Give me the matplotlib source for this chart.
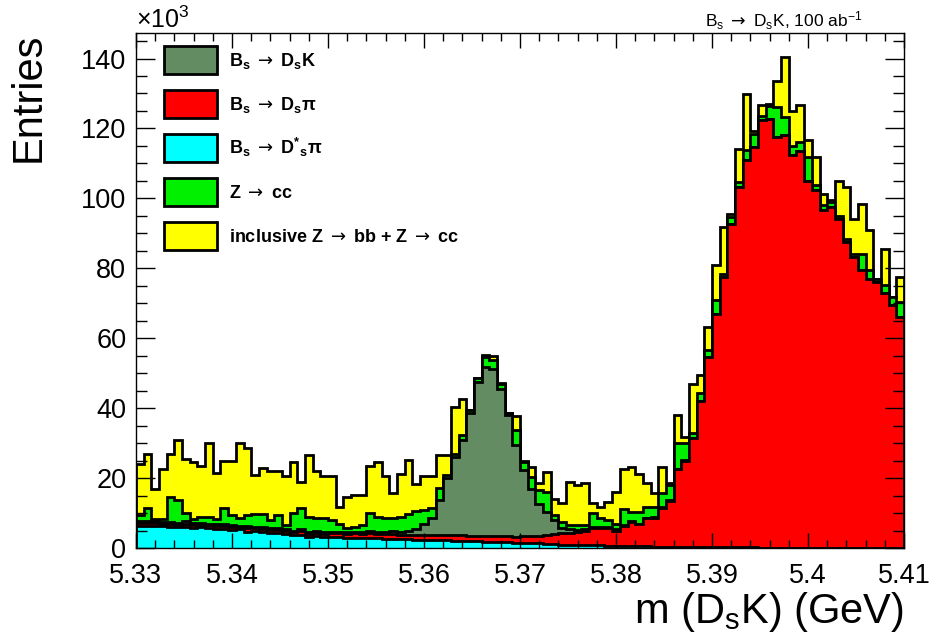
import numpy as np
import matplotlib
matplotlib.use("Agg")
import matplotlib.pyplot as plt
from matplotlib.patches import Patch

plt.rcParams['font.family'] = ['Liberation Sans', 'DejaVu Sans']
plt.rcParams['mathtext.fontset'] = 'custom'
plt.rcParams['mathtext.rm'] = 'Liberation Sans'
plt.rcParams['mathtext.it'] = 'Liberation Sans'
plt.rcParams['mathtext.bf'] = 'Liberation Sans:bold'
plt.rcParams['mathtext.sf'] = 'DejaVu Sans'
plt.rcParams['mathtext.default'] = 'rm'

# m(DsK) histogram, 100 bins from 5.33 to 5.41 GeV, entries in units of 1e3
m_lo, m_hi, nbins = 5.33, 5.41, 100

# B_s -> D*_s pi
dstar_pi = [6.3, 6.4, 6.2, 6.3, 6.1, 5.9, 6.0, 5.8, 5.9, 5.7,
            5.3, 5.4, 5.2, 5.3, 4.7, 4.8, 4.6, 4.2, 4.3, 4.1,
            3.7, 3.8, 3.2, 3.3, 3.1, 3.2, 3.1, 3.0, 3.0, 3.0,
            2.9, 2.8, 2.7, 2.6, 2.5, 2.5, 2.4, 2.3, 2.3, 2.2,
            2.2, 2.1, 2.0, 2.0, 1.9, 1.8, 1.8, 1.7, 1.6, 1.5,
            1.5, 1.4, 1.3, 1.2, 1.1, 1.0, 1.0, 0.9, 0.9, 0.8,
            0.8, 0.7, 0.7, 0.6, 0.6, 0.5, 0.5, 0.4, 0.4, 0.3,
            0.3, 0.3, 0.2, 0.2, 0.2, 0.2, 0.2, 0.2, 0.2, 0.2,
            0.2, 0.1, 0.1, 0.1, 0.1, 0.1, 0.1, 0.1, 0.1, 0.1,
            0.1, 0.1, 0.1, 0.1, 0.1, 0.1, 0.1, 0.1, 0.1, 0.1]

# B_s -> D_s pi
ds_pi = [0.9, 0.8, 1.0, 0.7, 0.9, 0.8, 1.0, 0.9, 0.7, 0.8,
         1.0, 0.8, 0.9, 0.7, 1.0, 0.8, 0.9, 1.0, 0.8, 0.9,
         0.9, 1.0, 0.8, 1.0, 0.9, 1.0, 1.1, 0.9, 1.2, 1.0,
         1.3, 1.1, 1.2, 1.4, 1.2, 1.3, 1.4, 1.5, 1.3, 1.6,
         1.4, 1.5, 1.7, 1.4, 1.6, 1.5, 1.7, 1.6, 1.8, 1.7,
         1.9, 2.0, 2.1, 2.6, 3.0, 3.2, 3.2, 3.7, 3.9, 4.8,
         4.8, 5.1, 4.3, 5.6, 6.9, 6.3, 8.0, 8.2, 11.1, 13.2,
         22.2, 24.7, 31.3, 41.8, 54.5, 66.8, 77.3, 92.6, 103.0, 110.7,
         114.5, 122.2, 122.7, 117.4, 117.9, 112.4, 113.4, 105.0, 102.2, 96.5,
         97.4, 94.1, 87.4, 83.1, 79.3, 76.9, 76.0, 72.7, 69.3, 66.0]

# B_s -> D_s K (signal)
ds_k = [0.5, 0.6, 0.4, 0.5, 0.5, 0.4, 0.6, 0.5, 0.5, 0.4,
        0.5, 0.6, 0.5, 0.4, 0.5, 0.5, 0.6, 0.4, 0.5, 0.5,
        0.4, 0.5, 0.6, 0.5, 0.5, 0.5, 0.5, 0.6, 0.5, 0.6,
        0.6, 0.7, 0.8, 0.9, 1.0, 1.2, 1.7, 3.2, 4.9, 9.9,
        16.4, 22.4, 27.3, 35.3, 44.0, 48.5, 47.7, 42.3, 34.6, 26.2,
        18.9, 13.6, 9.1, 6.6, 3.9, 1.4, 1.1, 0.6, 0.5, 0.4,
        0.4, 0.3, 0.3, 0.3, 0.3, 0.2, 0.2, 0.2, 0.2, 0.2,
        0.2, 0.1, 0.1, 0.1, 0.0, 0.0, 0.0, 0.0, 0.0, 0.0,
        0.0, 0.0, 0.0, 0.0, 0.0, 0.0, 0.0, 0.0, 0.0, 0.0,
        0.0, 0.0, 0.0, 0.0, 0.0, 0.0, 0.0, 0.0, 0.0, 0.0]

# Z -> cc
z_cc = [1.7, 3.5, 0.6, 0.7, 7.2, 6.6, 2.5, 1.0, 1.7, 2.1,
        1.4, 4.5, 2.8, 2.1, 3.2, 3.6, 3.6, 2.4, 3.8, 1.1,
        4.9, 6.0, 4.2, 3.7, 4.0, 3.3, 2.3, 1.1, 1.4, 2.0,
        5.1, 4.4, 3.8, 3.6, 4.3, 4.7, 5.0, 4.0, 3.0, 3.6,
        1.0, 1.0, 1.3, 0.7, 1.0, 2.7, 2.7, 1.4, 0.5, 4.3,
        2.4, 3.4, 4.1, 5.7, 1.4, 1.9, 1.3, 1.3, 1.2, 3.9,
        2.5, 1.9, 1.7, 4.7, 2.6, 3.4, 3.1, 3.0, 3.9, 4.4,
        7.2, 4.8, 1.2, 2.1, 1.9, 3.9, 1.0, 1.9, 1.5, 2.8,
        3.8, 1.4, 3.7, 8.6, 5.2, 2.5, 2.6, 6.7, 1.4, 1.4,
        1.5, 0.9, 1.0, 1.0, 4.8, 2.4, 0.9, 2.3, 2.4, 4.3]

# inclusive Z -> bb + Z -> cc
incl = [14.6, 15.7, 8.8, 14.3, 12.3, 17.3, 15.4, 16.3, 14.7, 21.0,
        13.3, 13.7, 15.6, 21.5, 19.1, 11.3, 13.3, 14.0, 12.6, 13.9,
        14.6, 7.7, 17.7, 13.5, 12.0, 12.5, 4.8, 9.1, 9.0, 8.5,
        13.6, 15.5, 12.1, 7.1, 12.3, 15.6, 7.8, 9.6, 9.1, 9.3,
        5.6, 13.4, 10.2, 0.2, 0.0, 0.8, 1.1, 0.2, 0.2, 4.0,
        0.3, 2.8, 1.9, 5.7, 4.7, 5.3, 12.4, 11.5, 12.0, 2.9,
        3.3, 5.2, 9.1, 11.5, 12.8, 10.9, 6.7, 3.8, 7.6, 0.4,
        8.1, 1.9, 14.2, 5.2, 6.6, 10.0, 13.3, 0.9, 9.5, 16.2,
        0.9, 2.9, 0.5, 7.6, 17.2, 10.0, 10.5, 4.8, 8.1, 3.3,
        0.4, 10.0, 14.7, 10.0, 14.3, 11.5, 0.0, 10.5, 0.0, 7.1]

# arrow taken from DejaVu Sans (mathtext sf slot)
arrow = r"$\mathsf{\rightarrow}$"
labels = [r"B$_{\mathbf{s}}$ " + arrow + r" D$_{\mathbf{s}}$K",
          r"B$_{\mathbf{s}}$ " + arrow + r" D$_{\mathbf{s}}$π",
          r"B$_{\mathbf{s}}$ " + arrow + r" D$^{\mathbf{*}}$$_{\mathbf{s}}$π",
          r"Z " + arrow + " cc",
          r"inclusive Z " + arrow + " bb + Z " + arrow + " cc"]
colors = {"dsk": "#638c63", "dspi": "#ff0000", "dstar": "#00ffff",
          "zcc": "#00f000", "incl": "#ffff00"}

x_ticks = [5.33, 5.34, 5.35, 5.36, 5.37, 5.38, 5.39, 5.40, 5.41]
x_ticklabels = ["5.33", "5.34", "5.35", "5.36", "5.37", "5.38", "5.39", "5.4", "5.41"]
y_ticks = [0, 20, 40, 60, 80, 100, 120, 140]

edges = np.linspace(m_lo, m_hi, nbins + 1)

# stack from the bottom: D*s pi, Ds pi, Ds K, Z->cc, inclusive
layers = [(dstar_pi, colors["dstar"]), (ds_pi, colors["dspi"]),
          (ds_k, colors["dsk"]), (z_cc, colors["zcc"]), (incl, colors["incl"])]
cum = np.cumsum([np.array(v) for v, _ in layers], axis=0)

fig = plt.figure(figsize=(9.36, 6.41), dpi=100)
ax = fig.add_axes([136 / 936, 1 - 548 / 641, 768 / 936, 515 / 641])

# draw the top of the stack first, like THStack does
for i in range(len(layers) - 1, -1, -1):
    ax.stairs(cum[i], edges, baseline=0, fill=True, color=layers[i][1], lw=0)
    ax.stairs(cum[i], edges, baseline=0, color="black", lw=2.0)

ax.set_xlim(m_lo, m_hi)
ax.set_ylim(0, 147.3)
ax.set_xticks(x_ticks)
ax.set_xticklabels(x_ticklabels)
ax.set_xticks(np.arange(m_lo, m_hi + 1e-6, 0.002), minor=True)
ax.set_yticks(y_ticks)
ax.set_yticks(np.arange(0, 147, 5), minor=True)
ax.tick_params(axis="both", which="both", direction="in", top=True, right=True,
               labelsize=19.5, width=1.0)
ax.tick_params(axis="x", which="major", length=11, pad=10.5)
ax.tick_params(axis="x", which="minor", length=6)
ax.tick_params(axis="y", which="major", length=14, pad=7)
ax.tick_params(axis="y", which="minor", length=8)
for s in ax.spines.values():
    s.set_linewidth(1.0)

ax.set_ylabel("Entries", fontsize=30, loc="top")
ax.yaxis.set_label_coords(-0.114, 1.0)
ax.set_xlabel(r"m (D$_{s}$K) (GeV)", fontsize=30, loc="right")
ax.xaxis.set_label_coords(1.0, -0.081)

fig.text(136 / 936, 1 - 33 / 641, r"×10$^{3}$", fontsize=18, ha="left", va="bottom")
fig.text(862 / 936, 1 - 27 / 641,
         r"B$_{s}$ " + arrow + r" D$_{s}$K, 100 ab$^{-1}$",
         fontsize=12.5, ha="right", va="baseline")

handles = [Patch(facecolor=colors["dsk"], edgecolor="black", lw=2),
           Patch(facecolor=colors["dspi"], edgecolor="black", lw=2),
           Patch(facecolor=colors["dstar"], edgecolor="black", lw=2),
           Patch(facecolor=colors["zcc"], edgecolor="black", lw=2),
           Patch(facecolor=colors["incl"], edgecolor="black", lw=2)]
ax.legend(handles, labels, loc="upper left", bbox_to_anchor=(0.037, 0.975),
          frameon=False, borderpad=0, borderaxespad=0,
          prop={"size": 13, "weight": "bold"},
          handlelength=2.9, handleheight=2.0, labelspacing=0.9, handletextpad=0.65)

fig.savefig("out.png", dpi=100)
